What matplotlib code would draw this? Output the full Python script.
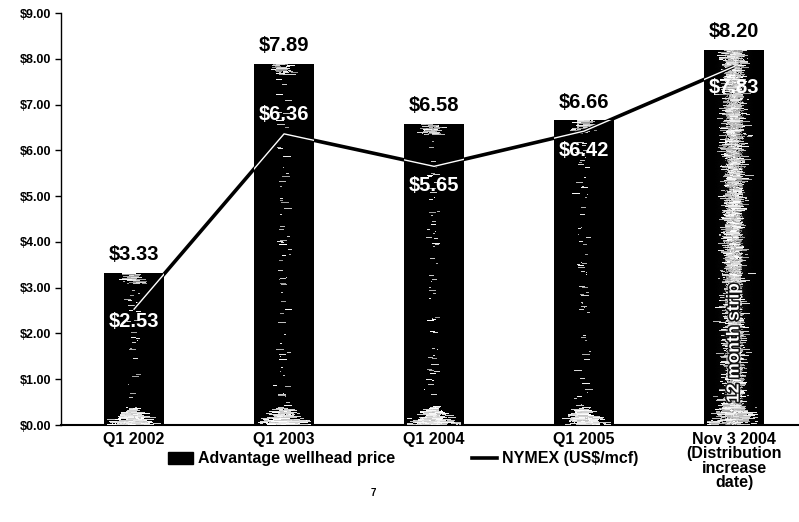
import numpy as np
import matplotlib.pyplot as plt
import matplotlib.patheffects as pe
from matplotlib.lines import Line2D
from matplotlib.patches import Patch

plt.rcParams['font.family'] = ['Liberation Sans', 'DejaVu Sans']

categories = ['Q1 2002', 'Q1 2003', 'Q1 2004', 'Q1 2005',
              'Nov 3 2004\n(Distribution\nincrease\ndate)']
wellhead = [3.33, 7.89, 6.58, 6.66, 8.20]
nymex = [2.53, 6.36, 5.65, 6.42, 7.83]
# vertical offset (points) of the white NYMEX labels from the line
nymex_label_offset = [-9, 14, -14, -14, -15]
y_ticks = [0, 1, 2, 3, 4, 5, 6, 7, 8, 9]

rng = np.random.default_rng(7)


def bar_texture(h, w, strip):
    # scanned "cylinder" look: black bar with a streaky light core
    # row 0 is the bottom of the bar (origin='lower')
    img = np.zeros((h, w))
    c = w / 2
    for r in range(h):
        d_top = h - 1 - r
        if strip:
            n, spread, maxlen, lvl = 6, 5, 10, (0.6, 1.0)
            if r < 20:
                n, spread, maxlen = 12, (28 - r) * 0.5, 14
        elif r < 18:
            n, spread, maxlen, lvl = int((18 - r) * 1.3) + 1, (22 - r) * 0.5, 12, (0.75, 1.0)
        elif d_top < 12:
            n, spread, maxlen, lvl = 3, 5, 14, (0.5, 1.0)
        else:
            n = 1 if rng.random() < 0.2 else 0
            spread, maxlen, lvl = 3, 8, (0.6, 1.0)
        for _ in range(n):
            L = rng.integers(1, maxlen + 1)
            x0 = int(c + rng.normal(0, spread) - L / 2)
            x0 = max(3, min(w - 3 - L, x0))
            img[r, x0:x0 + L] = rng.uniform(*lvl)
    if strip:
        u = (np.arange(w) + 0.5)[None, :] / w
        band = np.exp(-((u - 0.5) / 0.17) ** 2)
        img = np.maximum(img, band * (0.4 + 0.55 * rng.random((h, w))))
        img = np.where(img > 0.4, img, img * 0.15)
    return img


fig = plt.figure(figsize=(7.99, 5.22), dpi=100)
ax = fig.add_axes([61 / 799, 97 / 522, 738 / 799, 412 / 522])

x = np.arange(len(categories))
bars = ax.bar(x, wellhead, width=0.4, color='black', zorder=2)

for i, b in enumerate(bars):
    h_px = max(int(b.get_height() * 46), 10)
    tex = bar_texture(h_px, 60, i == len(bars) - 1)
    im = ax.imshow(tex, cmap='gray', vmin=0, vmax=1, origin='lower',
                   aspect='auto', interpolation='nearest', zorder=3,
                   extent=(b.get_x(), b.get_x() + b.get_width(), 0, b.get_height()))
    im.set_clip_path(b)

ax.plot(x, nymex, color='black', lw=2.6, zorder=4, solid_capstyle='butt')
for b in bars:
    ln, = ax.plot(x, nymex, color='white', lw=1.0, zorder=5)
    ln.set_clip_path(b)

for xi, v in zip(x, wellhead):
    ax.annotate(f'${v:.2f}', (xi, v), xytext=(0, 6), textcoords='offset points',
                ha='center', va='bottom', fontsize=14.5, fontweight='bold',
                color='black', zorder=6)
for xi, v, off in zip(x, nymex, nymex_label_offset):
    ax.annotate(f'${v:.2f}', (xi, v), xytext=(0, off), textcoords='offset points',
                ha='center', va='center', fontsize=14.5, fontweight='bold',
                color='white', zorder=6)

ax.text(x[-1], 1.8, '12 month strip', rotation=90, ha='center', va='center',
        color='white', fontsize=12.5, fontweight='bold', zorder=6,
        path_effects=[pe.withStroke(linewidth=2.2, foreground='#111111')])

ax.set_xlim(-0.487, 4.433)
ax.set_ylim(0, 9)
ax.set_yticks(y_ticks)
ax.set_yticklabels([f'${t:.2f}' for t in y_ticks], fontsize=9, fontweight='bold')
ax.set_xticks(x)
ax.set_xticklabels(categories, fontsize=11.5, fontweight='bold', linespacing=0.95)
ax.tick_params(axis='x', length=0, pad=5)
ax.tick_params(axis='y', direction='out', length=4, width=1, pad=3)
for s in ['top', 'right']:
    ax.spines[s].set_visible(False)
ax.spines['left'].set_linewidth(1)
ax.spines['bottom'].set_linewidth(1.5)

handles = [Patch(facecolor='black', edgecolor='black'),
           Line2D([0], [0], color='black', lw=2.6)]
fig.legend(handles, ['Advantage wellhead price', 'NYMEX (US$/mcf)'],
           loc='center', bbox_to_anchor=(403 / 799, 1 - 459 / 522), ncol=2,
           frameon=False, columnspacing=4.8, handlelength=1.6,
           handletextpad=0.3, prop={'weight': 'bold', 'size': 11.5})

fig.text(373 / 799, 1 - 493 / 522, '7', fontsize=7, fontweight='bold',
         ha='center', va='center')

fig.savefig('out.png', dpi=100)
